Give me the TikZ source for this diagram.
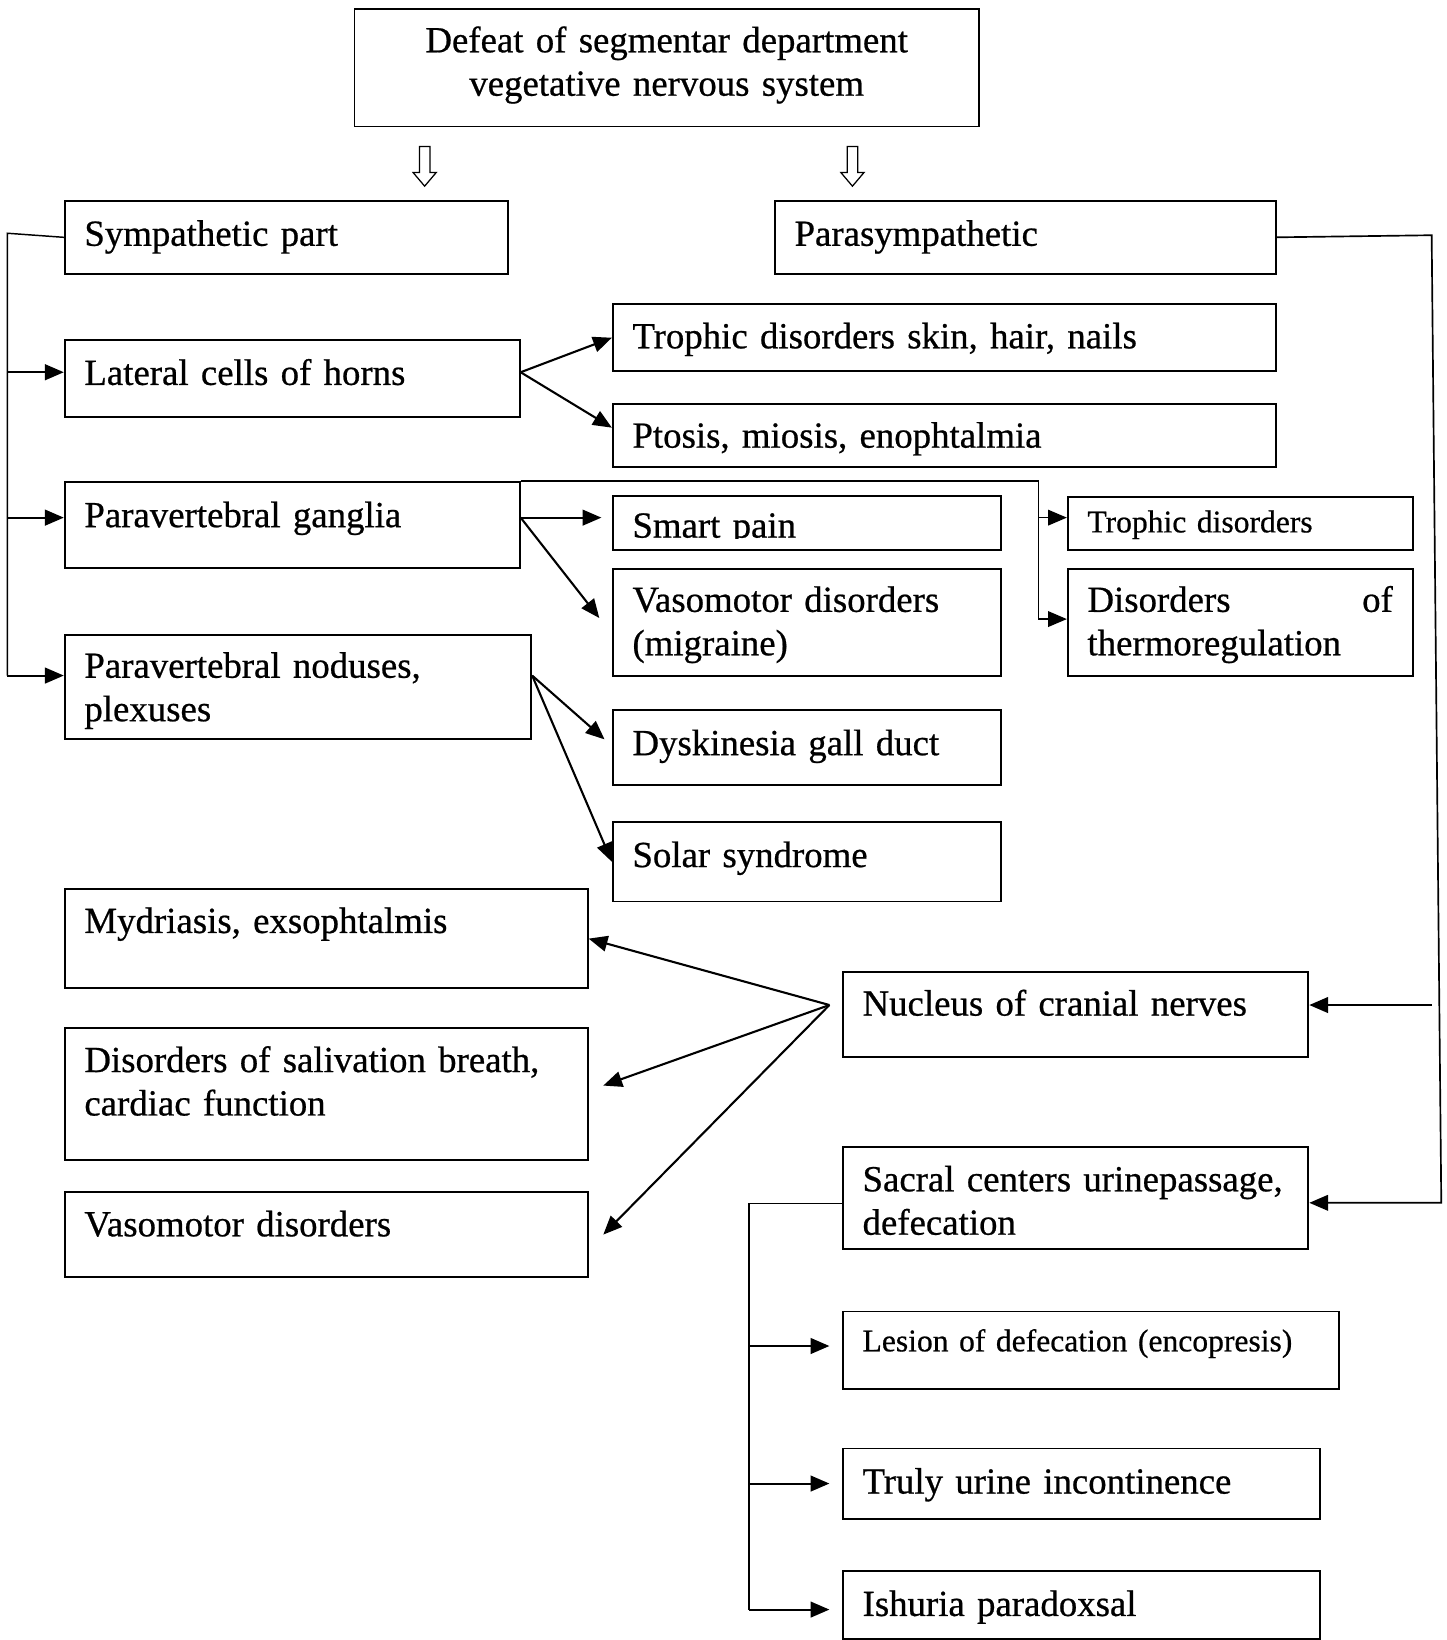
\documentclass[tikz,border=0pt]{standalone}
\usepackage{fontspec}
\setmainfont{Liberation Serif}[FakeBold=0.6]
\usetikzlibrary{arrows.meta,calc}

\tikzset{
  cellbox/.style={draw, line width=1.8pt, rectangle, inner sep=0pt, anchor=north west},
  celltext/.style={inner sep=0pt, anchor=base west, align=left, text width=600pt,
    font=\fontsize{35.2}{41.5}\selectfont},
  smalltext/.style={celltext, font=\fontsize{30.2}{36}\selectfont},
  tip/.style={-{Triangle[length=18pt,width=15pt]}},
  arr/.style={line width=2pt, tip},
  link/.style={line width=1.4pt},
  linkarr/.style={link, tip},
  hollow/.style={draw, line width=1.2pt, fill=white, line join=miter},
  downhollow/.pic={\path[hollow] (-5,0) -- (5,0) -- (5,25) -- (11,25) -- (0,38) -- (-11,25) -- (-5,25) -- cycle;}
}

% box: name, left, top, right, bottom
\newcommand\cell[5]{\node[cellbox, minimum width={#4-#2}, minimum height={#5-#3}] (#1) at (#2,#3) {};}

\begin{document}
\begin{tikzpicture}[x=1pt, y=-1pt]
\fill[white] (0,0) rectangle (1383,1568);
\useasboundingbox (0,0) rectangle (1383,1568);

% ---- boxes ----
\cell{top}{338}{8}{935}{120}
\cell{symp}{61}{191}{485}{261}
\cell{para}{740}{191}{1219}{261}
\cell{lat}{61}{324}{496}{398}
\cell{troph}{585}{290}{1219}{354}
\cell{ptos}{585}{385}{1219}{446}
\cell{gang}{61}{460}{496}{542}
\cell{smart}{585}{473}{956}{525}
\cell{vaso}{585}{543}{956}{645}
\cell{troph2}{1020}{474}{1350}{525}
\cell{thermo}{1020}{543}{1350}{645}
\cell{nod}{61}{606}{507}{706}
\cell{dysk}{585}{678}{956}{750}
\cell{solar}{585}{785}{956}{861}
\cell{myd}{61}{849}{561}{944}
\cell{saliv}{61}{982}{561}{1108}
\cell{vaso2}{61}{1139}{561}{1220}
\cell{nucl}{805}{928}{1250}{1010}
\cell{sacr}{805}{1096}{1250}{1193}
\cell{lesion}{805}{1253}{1279}{1327}
\cell{truly}{805}{1384}{1261}{1451}
\cell{ishur}{805}{1501}{1261}{1566}

% ---- texts ----
\node[celltext, text width=597pt, align=center, anchor=base] (top-t) at ([yshift=-42pt]top.north)
  {Defeat of segmentar department\\vegetative nervous system};
\node[celltext] (symp-t) at ([shift={(19.5,44)}]symp.north west) {Sympathetic part};
\node[celltext] (para-t) at ([shift={(19.5,44)}]para.north west) {Parasympathetic};
\node[celltext] (lat-t) at ([shift={(19.5,44)}]lat.north west) {Lateral cells of horns};
\node[celltext] (troph-t) at ([shift={(19.5,43)}]troph.north west) {Trophic disorders skin, hair, nails};
\node[celltext] (ptos-t) at ([shift={(19.5,43)}]ptos.north west) {Ptosis, miosis, enophtalmia};
\node[celltext] (gang-t) at ([shift={(19.5,44)}]gang.north west) {Paravertebral ganglia};
\begin{scope}
  \clip ([shift={(1,1)}]smart.north west) rectangle ([shift={(-1,-11.5)}]smart.south east);
  \node[celltext] (smart-t) at ([shift={(19.5,41)}]smart.north west) {Smart pain};
\end{scope}
\node[celltext] (vaso-t) at ([shift={(19.5,42)}]vaso.north west) {Vasomotor disorders\\(migraine)};
\node[smalltext] (troph2-t) at ([shift={(19.5,35)}]troph2.north west) {Trophic disorders};
\node[celltext] (thermo-t) at ([shift={(19.5,42)}]thermo.north west)
  {\makebox[292pt][l]{Disorders\hfill of}\\thermoregulation};
\node[celltext] (nod-t) at ([shift={(19.5,42)}]nod.north west) {Paravertebral noduses,\\plexuses};
\node[celltext] (dysk-t) at ([shift={(19.5,44)}]dysk.north west) {Dyskinesia gall duct};
\node[celltext] (solar-t) at ([shift={(19.5,44)}]solar.north west) {Solar syndrome};
\node[celltext] (myd-t) at ([shift={(19.5,43)}]myd.north west) {Mydriasis, exsophtalmis};
\node[celltext] (saliv-t) at ([shift={(19.5,43)}]saliv.north west) {Disorders of salivation breath,\\cardiac function};
\node[celltext] (vaso2-t) at ([shift={(19.5,43)}]vaso2.north west) {Vasomotor disorders};
\node[celltext] (nucl-t) at ([shift={(19.5,43)}]nucl.north west) {Nucleus of cranial nerves};
\node[celltext] (sacr-t) at ([shift={(19.5,43)}]sacr.north west) {Sacral centers urinepassage,\\defecation};
\node[smalltext] (lesion-t) at ([shift={(19.5,39)}]lesion.north west) {Lesion of defecation (encopresis)};
\node[celltext] (truly-t) at ([shift={(19.5,44)}]truly.north west) {Truly urine incontinence};
\node[celltext] (ishur-t) at ([shift={(19.5,44)}]ishur.north west) {Ishuria paradoxsal};

% ---- hollow arrows below the heading ----
\pic at (406,140) {downhollow};
\pic at (815,140) {downhollow};

% ---- sympathetic bus ----
\coordinate (lb) at (7,223);
\coordinate (latin) at ([yshift=6pt]lat.west);
\coordinate (gangin) at ([yshift=7pt]gang.west);
\coordinate (nodin) at ([yshift=11pt]nod.west);
\draw[link] (symp.west) -- (lb) -- (lb |- nodin);
\draw[arr] (lb |- latin) -- (latin);
\draw[arr] (lb |- gangin) -- (gangin);
\draw[arr] (lb |- nodin) -- (nodin);

% ---- lateral cells of horns ----
\coordinate (latout) at ([yshift=6pt]lat.east);
\draw[arr] (latout) -- (troph.west);
\draw[arr] (latout) -- ([yshift=7.5pt]ptos.west);

% ---- paravertebral ganglia ----
\coordinate (gangout) at ([yshift=7pt]gang.east);
\draw[arr] (gangout) -- ([shift={(-10,-5)}]smart.west);
\draw[arr] (gangout) -- ([shift={(-12,-4)}]vaso.west);
\coordinate (gx) at ([xshift=495pt]gang.north east);
\coordinate (t2in) at ([yshift=5.5pt]troph2.west);
\coordinate (thin) at ([yshift=3pt]thermo.west);
\draw[linkarr] (gang.north east) -- (gx) |- (thin);
\draw[linkarr] (gx |- t2in) -- (t2in);

% ---- paravertebral noduses ----
\coordinate (nodout) at ([yshift=11pt]nod.east);
\draw[arr] (nodout) -- ([shift={(-7,-8)}]dysk.west);
\draw[arr] (nodout) -- (solar.west);

% ---- parasympathetic branch ----
\coordinate (rtop) at ([shift={(148,-2)}]para.east);
\coordinate (rbot) at (1378,1150);
\draw[linkarr, line width=1.6pt] (para.east) -- (rtop) -- (rbot) -- (rbot -| sacr.east);
\coordinate (nin) at ([yshift=9pt]nucl.east);
\draw[arr] ([xshift=117pt]nin) -- (nin);

% ---- nucleus of cranial nerves ----
\coordinate (fan) at ([shift={(-12,-9)}]nucl.west);
\draw[arr] (fan) -- (myd.east);
\draw[arr] (fan) -- ([shift={(14,-8)}]saliv.east);
\draw[arr] (fan) -- ([xshift=14pt]vaso2.east);

% ---- sacral centers ----
\coordinate (sout) at ([yshift=-5.5pt]sacr.west);
\coordinate (sx) at ([xshift=-89pt]sout);
\coordinate (lesin) at ([shift={(-12,-4)}]lesion.west);
\coordinate (trin) at ([xshift=-12pt]truly.west);
\coordinate (ishin) at ([shift={(-12,4.5)}]ishur.west);
\draw[link] (sout) -- (sx) -- (sx |- ishin);
\draw[arr] (sx |- lesin) -- (lesin);
\draw[arr] (sx |- trin) -- (trin);
\draw[arr] (sx |- ishin) -- (ishin);
\end{tikzpicture}
\end{document}
